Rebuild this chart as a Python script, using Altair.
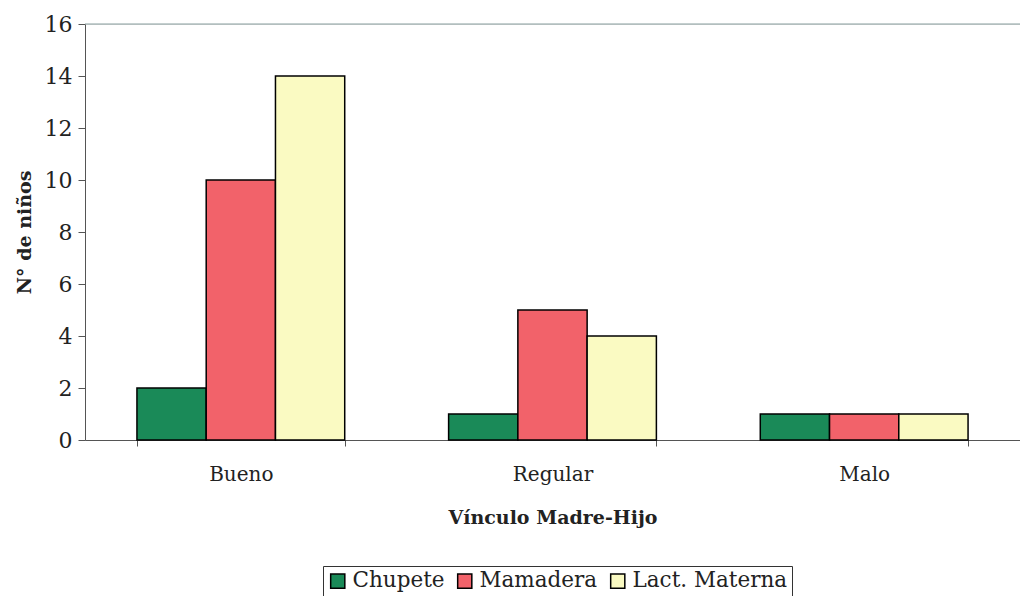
import altair as alt
import pandas as pd

categories = ["Bueno", "Regular", "Malo"]
series = ["Chupete", "Mamadera", "Lact. Materna"]
chupete = [2, 1, 1]
mamadera = [10, 5, 1]
lact = [14, 4, 1]
colors = ["#1a8a58", "#f2626a", "#fafac2"]

rows = []
for i, c in enumerate(categories):
    for s, vals in zip(series, [chupete, mamadera, lact]):
        rows.append({"vinculo": c, "serie": s, "n": vals[i]})
df = pd.DataFrame(rows)

serif = "DejaVu Serif"

bars = alt.Chart(df).mark_bar(stroke="black", strokeWidth=1.5).encode(
    x=alt.X("vinculo:N", sort=categories,
            scale=alt.Scale(paddingInner=1/3, paddingOuter=1/6),
            axis=alt.Axis(title="Vínculo Madre-Hijo", labelAngle=0, tickBand="extent",
                          labelFont=serif, labelFontSize=20, labelColor="#222",
                          labelPadding=18, titleFont=serif, titleFontSize=19,
                          titleFontWeight="bold", titleColor="#222", titlePadding=24,
                          domainColor="#555", tickColor="#555", tickSize=6)),
    xOffset=alt.XOffset("serie:N", sort=series),
    y=alt.Y("n:Q", scale=alt.Scale(domain=[0, 16]),
            axis=alt.Axis(title="N° de niños", values=list(range(0, 17, 2)), grid=False,
                          labelFont=serif, labelFontSize=22, labelColor="#222",
                          labelPadding=6, titleFont=serif, titleFontSize=19,
                          titleFontWeight="bold", titleColor="#222", titlePadding=10,
                          domainColor="#555", tickColor="#555", tickSize=7)),
    color=alt.Color("serie:N", sort=series,
                    scale=alt.Scale(domain=series, range=colors),
                    legend=alt.Legend(title=None, orient="none", direction="horizontal",
                                      legendX=238, legendY=542,
                                      strokeColor="#333", padding=4,
                                      symbolType="square", symbolSize=200,
                                      symbolStrokeColor="black", symbolStrokeWidth=1.5,
                                      labelFont=serif, labelFontSize=21.5, labelColor="#222",
                                      columnPadding=9, labelOffset=4)),
)

top = alt.Chart(pd.DataFrame({"y": [16]})).mark_rule(color="#8aa0a0", strokeWidth=1.2).encode(
    y="y:Q"
)

chart = alt.layer(bars, top).properties(
    width=935, height=416,
    autosize=alt.AutoSizeParams(type="none"),
    padding={"left": 77, "top": 16, "right": 0, "bottom": 156},
).configure_view(stroke=None).configure(background="white")

chart.save("out.html", embed_options={"renderer": "svg", "actions": False})
